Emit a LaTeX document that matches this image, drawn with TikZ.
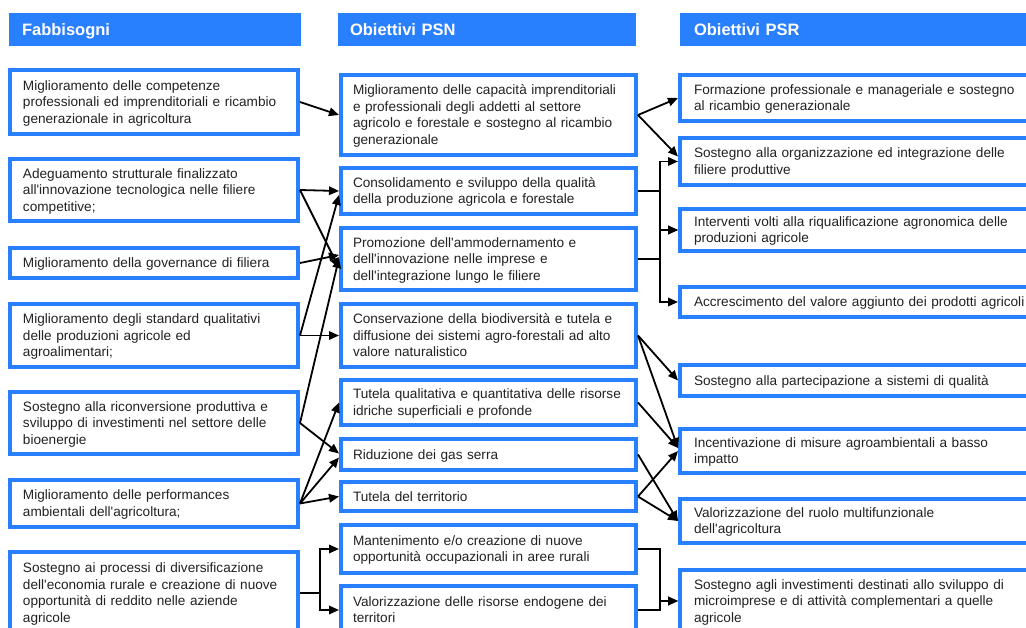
\documentclass[tikz,border=0pt]{standalone}
\usepackage{fontspec}
\setmainfont{Liberation Sans}
\usetikzlibrary{arrows.meta}
\definecolor{psrblue}{RGB}{41,128,255}
\definecolor{psrtext}{RGB}{34,34,34}
\newcommand{\apo}{\textquotesingle}

\begin{document}
\begin{tikzpicture}[x=1pt,y=-1pt]
	\tikzset{
		box/.style={draw=psrblue,line width=4pt,fill=white,align=left,text=psrtext,
			font=\fontsize{13.6}{16.5}\selectfont,inner ysep=0pt,
			execute at begin node={\rule{0pt}{12.3pt}},
			execute at end node={\rule[-2.9pt]{0pt}{2.9pt}}},
		fbox/.style={box,inner xsep=13pt,text width=262pt},
		mbox/.style={box,inner xsep=12pt,text width=271pt},
		rbox/.style={box,inner xsep=14pt,text width=352pt},
		head/.style={fill=psrblue,text=white,align=left,minimum height=32.5pt,inner ysep=0pt,
			text height=14pt,text depth=1.5pt,font=\bfseries\fontsize{16.5}{18}\selectfont},
		arr/.style={-{Triangle[length=10pt,width=8.5pt]},line width=1.8pt,black}
	}
	\useasboundingbox (0,0) rectangle (1026,628);

	% headers
	\node[head,inner xsep=13pt,text width=266pt] (hfab) at (155,29.5) {Fabbisogni};
	\node[head,inner xsep=12pt,text width=274pt] (hpsn) at (487,29.5) {Obiettivi PSN};
	\node[head,inner xsep=14pt,text width=332pt] (hpsr) at (860,29.5) {Obiettivi PSR};

	% fabbisogni
	\node[fbox,minimum height=64pt] (f1) at (154,102) {Miglioramento delle competenze\\professionali ed imprenditoriali e ricambio\\generazionale in agricoltura};
	\node[fbox,minimum height=62pt] (f2) at (154,190) {Adeguamento strutturale finalizzato\\all\apo innovazione tecnologica nelle filiere\\competitive;};
	\node[fbox,minimum height=30pt] (f3) at (154,263) {Miglioramento della governance di filiera};
	\node[fbox,minimum height=63pt] (f4) at (154,335.5) {Miglioramento degli standard qualitativi\\delle produzioni agricole ed\\agroalimentari;};
	\node[fbox,minimum height=62pt] (f5) at (154,423) {Sostegno alla riconversione produttiva e\\sviluppo di investimenti nel settore delle\\bioenergie};
	\node[fbox,minimum height=47pt] (f6) at (154,503.5) {Miglioramento delle performances\\ambientali dell\apo agricoltura;};
	\node[fbox,minimum height=82pt] (f7) at (154,593) {Sostegno ai processi di diversificazione\\dell\apo economia rurale e creazione di nuove\\opportunità di reddito nelle aziende\\agricole};

	% obiettivi PSN
	\node[mbox,minimum height=80pt] (m1) at (488.5,115) {Miglioramento delle capacità imprenditoriali\\e professionali degli addetti al settore\\agricolo e forestale e sostegno al ricambio\\generazionale};
	\node[mbox,minimum height=46pt] (m2) at (488.5,191) {Consolidamento e sviluppo della qualità\\della produzione agricola e forestale};
	\node[mbox,minimum height=62pt] (m3) at (488.5,259) {Promozione dell\apo ammodernamento e\\dell\apo innovazione nelle imprese e\\dell\apo integrazione lungo le filiere};
	\node[mbox,minimum height=63pt] (m4) at (488.5,335.5) {Conservazione della biodiversità e tutela e\\diffusione dei sistemi agro-forestali ad alto\\valore naturalistico};
	\node[mbox,minimum height=45pt] (m5) at (488.5,402.5) {Tutela qualitativa e quantitativa delle risorse\\idriche superficiali e profonde};
	\node[mbox,minimum height=31pt] (m6) at (488.5,454.5) {Riduzione dei gas serra};
	\node[mbox,minimum height=29pt] (m7) at (488.5,496.5) {Tutela del territorio};
	\node[mbox,minimum height=48pt] (m8) at (488.5,549) {Mantenimento e/o creazione di nuove\\opportunità occupazionali in aree rurali};
	\node[mbox,minimum height=48pt] (m9) at (488.5,610) {Valorizzazione delle risorse endogene dei\\territori};

	% obiettivi PSR
	\node[rbox,minimum height=46pt] (r1) at (870,98) {Formazione professionale e manageriale e sostegno\\al ricambio generazionale};
	\node[rbox,minimum height=47pt] (r2) at (870,161.5) {Sostegno alla organizzazione ed integrazione delle\\filiere produttive};
	\node[rbox,minimum height=42pt] (r3) at (870,230) {Interventi volti alla riqualificazione agronomica delle\\produzioni agricole};
	\node[rbox,minimum height=30pt] (r4) at (870,302) {Accrescimento del valore aggiunto dei prodotti agricoli};
	\node[rbox,minimum height=31pt] (r5) at (870,380.5) {Sostegno alla partecipazione a sistemi di qualità};
	\node[rbox,minimum height=44pt] (r6) at (870,451) {Incentivazione di misure agroambientali a basso\\impatto};
	\node[rbox,minimum height=44pt] (r7) at (870,521) {Valorizzazione del ruolo multifunzionale\\dell\apo agricoltura};
	\node[rbox,minimum height=62pt] (r8) at (870,601) {Sostegno agli investimenti destinati allo sviluppo di\\microimprese e di attività complementari a quelle\\agricole};

	% fabbisogni -> PSN
	\path[arr] (f1.east) edge (m1.west);
	\path[arr] (f2.east) edge (m2.west) edge ([yshift=-9pt]m3.west);
	\path[arr] (f3.east) edge ([yshift=4pt]m3.west);
	\path[arr] (f4.east) edge (m4.west) edge ([yshift=-4pt]m2.west);
	\path[arr] (f5.east) edge ([yshift=1pt]m3.west) edge ([yshift=1pt]m6.west);
	\path[arr] (f6.east) edge (m5.west) edge ([yshift=-3pt]m6.west) edge (m7.west);
	\draw[arr] (f7.east) -- ++(20,0) |- (m8.west);
	\draw[arr] (f7.east) -- ++(20,0) |- (m9.west);

	% PSN -> PSR
	\path[arr] (m1.east) edge (r1.west) edge ([yshift=5pt]r2.west);
	\draw[arr] (m2.east) -- ++(22,0) |- (r2.west);
	\draw[arr] (m2.east) -- ++(22,0) |- (r3.west);
	\draw[arr] (m3.east) -- ++(22,0) |- (r3.west);
	\draw[arr] (m3.east) -- ++(22,0) |- (r4.west);
	\path[arr] (m4.east) edge (r5.west) edge ([yshift=3pt]r6.west);
	\path[arr] (m5.east) edge ([yshift=3pt]r6.west);
	\path[arr] (m6.east) edge (r7.west);
	\path[arr] (m7.east) edge (r6.west) edge (r7.west);
	\draw[arr] (m8.east) -- ++(22,0) |- (r8.west);
	\draw[arr] (m9.east) -- ++(22,0) |- (r8.west);
\end{tikzpicture}
\end{document}
